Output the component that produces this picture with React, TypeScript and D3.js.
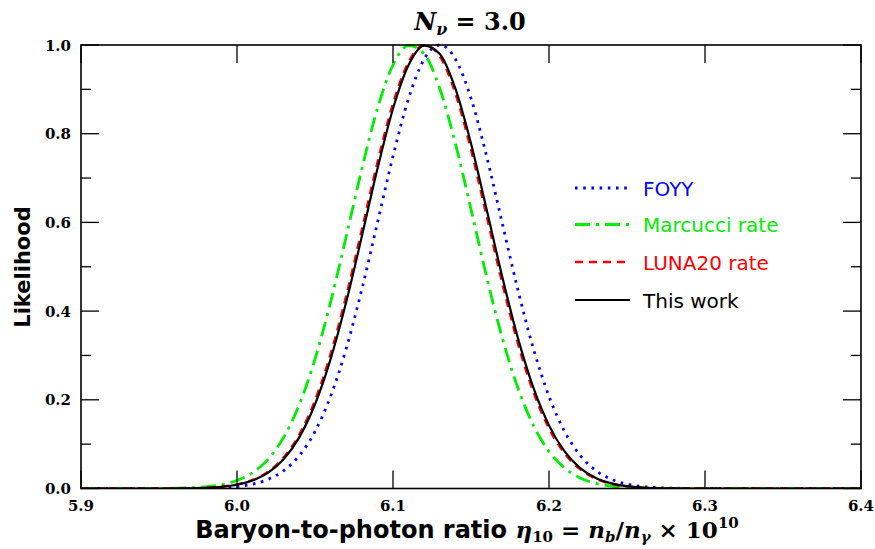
import React from "react";
import * as d3 from "d3";

const ETA = [5.90, 5.95, 5.97, 5.98, 5.99, 6.00, 6.01, 6.02, 6.03, 6.04, 6.05, 6.06, 6.07, 6.08, 6.09, 6.10, 6.11, 6.12, 6.13, 6.14, 6.15, 6.16, 6.17, 6.18, 6.19, 6.20, 6.21, 6.22, 6.23, 6.24, 6.25, 6.26, 6.27, 6.28, 6.30, 6.35, 6.40];

const FOYY = [0, 0, 0.0003, 0.0007, 0.0019, 0.0044, 0.0099, 0.0207, 0.0405, 0.0746, 0.1286, 0.2079, 0.3154, 0.4488, 0.5988, 0.7494, 0.8797, 0.9685, 1.0, 0.9685, 0.8797, 0.7494, 0.5988, 0.4488, 0.3154, 0.2079, 0.1286, 0.0746, 0.0405, 0.0207, 0.0099, 0.0044, 0.0019, 0.0007, 0.0001, 0, 0];
const MARCUCCI = [0, 0.0002, 0.0016, 0.0038, 0.0085, 0.0179, 0.0356, 0.0663, 0.1159, 0.1899, 0.2917, 0.4203, 0.5681, 0.7202, 0.8563, 0.9549, 0.9987, 0.9797, 0.9014, 0.7778, 0.6295, 0.4778, 0.3402, 0.2272, 0.1423, 0.0836, 0.0460, 0.0238, 0.0115, 0.0052, 0.0022, 0.0009, 0.0003, 0.0001, 0, 0, 0];
const LUNA20 = [0, 0, 0.0007, 0.0017, 0.0041, 0.0092, 0.0193, 0.0380, 0.0703, 0.1221, 0.1988, 0.3034, 0.4344, 0.5835, 0.7349, 0.8682, 0.9620, 0.9997, 0.9743, 0.8907, 0.7637, 0.6142, 0.4632, 0.3277, 0.2174, 0.1353, 0.0790, 0.0432, 0.0222, 0.0107, 0.0048, 0.0020, 0.0008, 0.0003, 0, 0, 0];
const THIS_WORK = [0, 0, 0.0006, 0.0016, 0.0038, 0.0085, 0.0179, 0.0356, 0.0663, 0.1159, 0.1899, 0.2917, 0.4203, 0.5681, 0.7202, 0.8563, 0.9549, 0.9987, 0.9797, 0.9014, 0.7778, 0.6295, 0.4778, 0.3402, 0.2272, 0.1423, 0.0836, 0.0460, 0.0238, 0.0115, 0.0052, 0.0022, 0.0009, 0.0003, 0, 0, 0];

const SERIES_NAMES = ["FOYY", "Marcucci rate", "LUNA20 rate", "This work"];
const X_TICKS = [5.9, 6.0, 6.1, 6.2, 6.3, 6.4];
const Y_TICKS = [0.0, 0.2, 0.4, 0.6, 0.8, 1.0];
const Y_MINOR = [0.1, 0.3, 0.5, 0.7, 0.9];

const W = 875, H = 549;
const L = 81, R = 861, T = 45, B = 488.5;

export default function App() {
  const x = d3.scaleLinear().domain([5.9, 6.4]).range([L, R]);
  const y = d3.scaleLinear().domain([0, 1]).range([B, T]);

  const styles = [
    { data: FOYY, color: "#0000ff", dash: "2.6 5.6", width: 2.8 },
    { data: MARCUCCI, color: "#00ee00", dash: "15 6 3 6", width: 2.8 },
    { data: LUNA20, color: "#ff0000", dash: "8 6", width: 2.4 },
    { data: THIS_WORK, color: "#000000", dash: null as string | null, width: 2.2 },
  ];

  const line = d3
    .line<number>()
    .x((_, i) => x(ETA[i]))
    .y((v) => y(v))
    .curve(d3.curveMonotoneX);

  const serif = "'DejaVu Serif', serif";
  const sans = "'DejaVu Sans', sans-serif";
  const legendY = [188, 224.5, 262, 300];

  return (
    <svg width={W} height={H} style={{ position: "absolute", left: 0, top: 0 }} xmlns="http://www.w3.org/2000/svg">
      <rect x={0} y={0} width={W} height={H} fill="#fff" />
      <defs>
        <clipPath id="plotclip">
          <rect x={L} y={T - 3} width={R - L} height={B - T + 3} />
        </clipPath>
      </defs>

      <g clipPath="url(#plotclip)">
        {styles.map((s, i) => (
          <path
            key={i}
            d={line(s.data) || ""}
            fill="none"
            stroke={s.color}
            strokeWidth={s.width}
            strokeDasharray={s.dash || undefined}
          />
        ))}
      </g>

      <g stroke="#000" strokeWidth={1.3}>
        {X_TICKS.map((t) => (
          <g key={"xt" + t}>
            <line x1={x(t)} x2={x(t)} y1={B} y2={B - 18} />
            <line x1={x(t)} x2={x(t)} y1={T} y2={T + 18} />
          </g>
        ))}
        {Y_TICKS.map((t) => (
          <g key={"yt" + t}>
            <line x1={L} x2={L + 18} y1={y(t)} y2={y(t)} />
            <line x1={R} x2={R - 18} y1={y(t)} y2={y(t)} />
          </g>
        ))}
        {Y_MINOR.map((t) => (
          <g key={"ym" + t}>
            <line x1={L} x2={L + 10} y1={y(t)} y2={y(t)} />
            <line x1={R} x2={R - 10} y1={y(t)} y2={y(t)} />
          </g>
        ))}
      </g>

      <rect x={L} y={T} width={R - L} height={B - T} fill="none" stroke="#000" strokeWidth={1.6} />

      {X_TICKS.map((t) => (
        <text key={"xl" + t} x={x(t)} y={511} textAnchor="middle" fontFamily={serif} fontWeight="bold" fontSize={15}>
          {t.toFixed(1)}
        </text>
      ))}
      {Y_TICKS.map((t) => (
        <text key={"yl" + t} x={71} y={y(t) + 5.5} textAnchor="end" fontFamily={serif} fontWeight="bold" fontSize={15}>
          {t.toFixed(1)}
        </text>
      ))}

      {styles.map((s, i) => (
        <g key={"lg" + i}>
          <line
            x1={575}
            x2={630}
            y1={legendY[i]}
            y2={legendY[i]}
            stroke={s.color}
            strokeWidth={s.width}
            strokeDasharray={s.dash || undefined}
          />
          <text x={643} y={legendY[i] + 7.5} fontFamily={sans} fontSize={20} fill={s.color}>
            {SERIES_NAMES[i]}
          </text>
        </g>
      ))}

      <text x={470} y={30} textAnchor="middle" fontFamily={serif} fontWeight="bold" fontSize={24}>
        <tspan fontStyle="italic">N</tspan>
        <tspan fontStyle="italic" fontSize={16} dy={5}>ν</tspan>
        <tspan dy={-5}> = 3.0</tspan>
      </text>

      <text
        transform={`translate(30, 267) rotate(-90)`}
        textAnchor="middle"
        fontFamily={sans}
        fontWeight="bold"
        fontSize={21}
      >
        Likelihood
      </text>

      <text x={467} y={538} textAnchor="middle" fontSize={24}>
        <tspan fontFamily={sans} fontWeight="bold">Baryon-to-photon ratio </tspan>
        <tspan fontFamily={serif} fontStyle="italic" fontWeight="bold" fontSize={23}>η</tspan>
        <tspan fontFamily={serif} fontWeight="bold" fontSize={15} dy={4}>10</tspan>
        <tspan fontFamily={serif} fontWeight="bold" fontSize={23} dy={-4}> = </tspan>
        <tspan fontFamily={serif} fontStyle="italic" fontWeight="bold" fontSize={23}>n</tspan>
        <tspan fontFamily={serif} fontStyle="italic" fontWeight="bold" fontSize={15} dy={4}>b</tspan>
        <tspan fontFamily={serif} fontWeight="bold" fontSize={23} dy={-4}>/</tspan>
        <tspan fontFamily={serif} fontStyle="italic" fontWeight="bold" fontSize={23}>n</tspan>
        <tspan fontFamily={serif} fontStyle="italic" fontWeight="bold" fontSize={15} dy={4}>γ</tspan>
        <tspan fontFamily={serif} fontWeight="bold" fontSize={23} dy={-4}> × 10</tspan>
        <tspan fontFamily={serif} fontWeight="bold" fontSize={15} dy={-10}>10</tspan>
      </text>
    </svg>
  );
}
